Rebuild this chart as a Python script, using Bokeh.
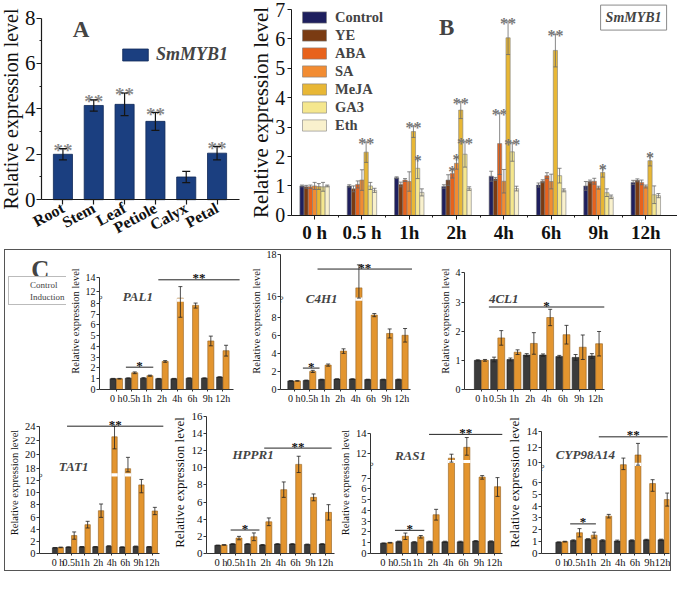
import numpy as np
from bokeh.plotting import figure
from bokeh.models import (Range1d, FixedTicker, Whisker, TeeHead, ColumnDataSource,
                          Label, Legend, LegendItem, LinearAxis)
from bokeh.layouts import row, column
from bokeh.embed import file_html
from bokeh.resources import INLINE
from bokeh.core.properties import value

# ====================== DATA ======================
# Panel A
tissues = ["Root", "Stem", "Leaf", "Petiole", "Calyx", "Petal"]
tissue_level = [2.0, 4.15, 4.2, 3.45, 1.0, 2.05]
tissue_err = [0.25, 0.25, 0.5, 0.4, 0.25, 0.3]
tissue_sig = ["**", "**", "**", "**", "", "**"]

# Panel B
b_times = ["0 h", "0.5 h", "1h", "2h", "4h", "6h", "9h", "12h"]
treatments = ["Control", "YE", "ABA", "SA", "MeJA", "GA3", "Eth"]
b_control = [1.0, 1.0, 1.28, 0.98, 1.33, 1.03, 1.0, 1.12]
b_control_err = [0.03, 0.04, 0.03, 0.06, 0.17, 0.07, 0.15, 0.07]
b_ye = [0.97, 0.9, 1.05, 1.2, 1.24, 1.16, 1.15, 1.19]
b_ye_err = [0.05, 0.1, 0.08, 0.18, 0.05, 0.05, 0.05, 0.05]
b_aba = [0.97, 1.05, 1.2, 1.42, 2.44, 1.35, 1.16, 1.12]
b_aba_err = [0.06, 0.12, 0.05, 0.15, 1.05, 0.1, 0.1, 0.08]
b_sa = [1.0, 1.2, 1.15, 1.77, 1.16, 1.15, 0.94, 0.98]
b_sa_err = [0.12, 0.35, 0.33, 0.2, 0.4, 0.25, 0.05, 0.05]
b_meja = [0.98, 2.15, 2.85, 3.58, 6.04, 5.61, 1.46, 1.86]
b_meja_err = [0.1, 0.35, 0.2, 0.29, 0.57, 0.56, 0.16, 0.18]
b_ga3 = [0.97, 1.0, 1.6, 2.08, 2.16, 1.35, 0.77, 0.7]
b_ga3_err = [0.15, 0.12, 0.35, 0.44, 0.32, 0.25, 0.13, 0.3]
b_eth = [1.0, 0.85, 0.78, 0.91, 0.91, 0.85, 0.63, 0.67]
b_eth_err = [0.03, 0.07, 0.12, 0.06, 0.08, 0.05, 0.06, 0.07]
b_sig_control = [""] * 8
b_sig_ye = [""] * 8
b_sig_aba = ["", "", "", "*", "**", "", "", ""]
b_sig_sa = ["", "", "", "*", "", "", "", ""]
b_sig_meja = ["", "**", "**", "**", "**", "**", "*", "*"]
b_sig_ga3 = ["", "", "*", "**", "**", "", "", ""]
b_sig_eth = [""] * 8

# Panel C
c_times = ["0 h", "0.5h", "1h", "2h", "4h", "6h", "9h", "12h"]
c_groups = ["Control", "Induction"]

pal1_ticks = [0, 1, 2, 3, 4, 5, 6, 7, 8, 12, 14]
pal1_ctrl = [1.0, 1.05, 1.05, 1.0, 1.0, 1.05, 1.05, 1.15]
pal1_ctrl_err = [0.03, 0.03, 0.05, 0.03, 0.03, 0.03, 0.03, 0.03]
pal1_ind = [1.0, 1.55, 1.28, 2.6, 9.7, 7.8, 4.5, 3.6]
pal1_ind_err = [0.03, 0.08, 0.05, 0.08, 3.0, 0.25, 0.45, 0.5]
pal1_sig = [(0.63, 2.43, 2.07, "*"), (2.76, 8.1, 13.7, "**")]

c4h1_ticks = [0, 2, 4, 6, 8, 16, 18]
c4h1_ctrl = [0.95, 1.0, 1.1, 1.15, 1.15, 1.1, 1.1, 1.1]
c4h1_ctrl_err = [0.03, 0.04, 0.04, 0.04, 0.04, 0.04, 0.04, 0.05]
c4h1_ind = [0.95, 2.0, 2.7, 4.25, 16.4, 8.8, 6.2, 6.0]
c4h1_ind_err = [0.03, 0.12, 0.12, 0.25, 1.1, 0.6, 0.5, 0.75]
c4h1_sig = [(0.57, 1.65, 2.37, "*"), (1.52, 7.66, 17.3, "**")]

cl41_ticks = [0, 1, 2, 3, 4]
cl41_ctrl = [1.0, 1.03, 1.03, 1.18, 1.18, 1.13, 1.1, 1.15]
cl41_ctrl_err = [0.02, 0.08, 0.05, 0.05, 0.04, 0.04, 0.1, 0.08]
cl41_ind = [1.0, 1.77, 1.28, 1.58, 2.47, 1.88, 1.45, 1.57]
cl41_ind_err = [0.03, 0.25, 0.08, 0.37, 0.28, 0.32, 0.42, 0.42]
cl41_sig = [(0.46, 7.54, 2.83, "*")]

tat1_ticks = [0, 2, 4, 6, 8, 10, 12, 18, 20, 22, 24]
tat1_ctrl = [0.95, 1.05, 1.1, 1.1, 1.2, 1.05, 1.15, 1.1]
tat1_ctrl_err = [0.03, 0.05, 0.05, 0.05, 0.08, 0.05, 0.08, 0.05]
tat1_ind = [1.0, 2.95, 4.75, 7.05, 22.5, 18.0, 11.3, 7.0]
tat1_ind_err = [0.05, 0.6, 0.55, 1.1, 1.7, 1.6, 1.3, 0.6]
tat1_sig = [(0.68, 7.84, 24.45, "**")]

hppr1_ticks = [0, 2, 4, 6, 8, 10, 12, 14, 16]
hppr1_ctrl = [0.95, 1.1, 1.1, 1.0, 1.1, 1.1, 1.05, 1.1]
hppr1_ctrl_err = [0.03, 0.05, 0.05, 0.05, 0.05, 0.05, 0.05, 0.05]
hppr1_ind = [1.0, 1.8, 1.95, 3.7, 7.45, 10.4, 6.55, 4.8]
hppr1_ind_err = [0.03, 0.2, 0.45, 0.45, 0.9, 0.95, 0.4, 0.9]
hppr1_sig = [(0.65, 2.58, 2.74, "*"), (2.9, 7.42, 12.3, "**")]

ras1_ticks = [0, 1, 2, 3, 4, 5, 6, 7, 12, 14]
ras1_ctrl = [0.95, 1.1, 1.05, 1.1, 1.08, 1.08, 1.15, 1.12]
ras1_ctrl_err = [0.03, 0.05, 0.05, 0.05, 0.06, 0.06, 0.05, 0.05]
ras1_ind = [1.0, 1.6, 1.55, 3.6, 11.0, 12.6, 7.2, 6.2]
ras1_ind_err = [0.03, 0.3, 0.12, 0.5, 0.8, 1.0, 0.3, 0.9]
ras1_sig = [(0.53, 2.44, 2.15, "*"), (2.75, 7.54, 13.92, "**")]

cyp_ticks = [0, 1, 2, 3, 4, 5, 6, 10, 12, 14]
cyp_ctrl = [0.95, 1.1, 1.2, 1.1, 1.05, 1.1, 1.15, 1.15]
cyp_ctrl_err = [0.03, 0.05, 0.05, 0.06, 0.08, 0.05, 0.05, 0.06]
cyp_ind = [1.0, 1.75, 1.55, 3.15, 9.6, 11.0, 5.9, 4.55]
cyp_ind_err = [0.03, 0.35, 0.25, 0.15, 1.0, 1.5, 0.65, 0.55]
cyp_sig = [(0.57, 2.33, 2.5, "*"), (2.53, 7.24, 13.35, "**")]

# ====================== LAYOUT / STYLE ======================
K = 0.975
SERIF = "Liberation Serif"
B_COLORS = ["#1e1f5e", "#7a3b12", "#e8621c", "#f28c32", "#e8b735", "#f5e78e", "#f9f1cd"]
C_COLORS = ["#3b3b3b", "#e3952f"]
C_LINES = ["#1e1e1e", "#94601f"]


def sc(v):
    return int(round(v * K))


def base_fig(box, frame, xr, yr, **kw):
    L, T, R, B = box
    fl, ft, fr, fb = frame
    p = figure(width=sc(R) - sc(L), height=sc(B) - sc(T), output_backend="svg",
               toolbar_location=None, x_range=Range1d(*xr), y_range=Range1d(*yr),
               min_border_left=sc(fl) - sc(L), min_border_right=sc(R) - sc(fr),
               min_border_top=sc(ft) - sc(T), min_border_bottom=sc(B) - sc(fb), **kw)
    p.grid.visible = False
    p.outline_line_color = None
    return p


def style_axis(ax, size, tick_out, standoff, color="#1a1a1a", width=1):
    ax.axis_line_color = color
    ax.axis_line_width = width
    ax.major_tick_line_color = color
    ax.minor_tick_line_color = color
    ax.major_tick_line_width = width
    ax.major_tick_in = 0
    ax.major_tick_out = tick_out
    ax.minor_tick_in = 0
    ax.minor_tick_out = max(1, tick_out // 2)
    ax.major_label_text_font = SERIF
    ax.major_label_text_font_size = size
    ax.major_label_standoff = standoff
    ax.major_label_text_color = "#111111"
    ax.axis_label_text_font = SERIF
    ax.axis_label_text_font_style = "normal"
    ax.axis_label_text_color = "#111111"


def sig_text(p, xs, ys, texts, size, color, yoff=2, **rn):
    keep = [i for i, t in enumerate(texts) if t]
    if not keep:
        return
    src = ColumnDataSource(dict(x=[xs[i] for i in keep], y=[ys[i] for i in keep],
                                t=[texts[i] for i in keep]))
    p.text(x="x", y="y", text="t", source=src, text_align="center",
           text_baseline="alphabetic", text_font=value(SERIF), text_font_size=size,
           text_color=color, text_font_style="bold", y_offset=yoff, **rn)


# ---------------- Top row: panels A and B share one canvas ----------------
# the frame covers the whole canvas; all four axes are pinned with fixed_location
top_box, top_frame = (0, 0, 694, 255), (0, 0, 694, 255)
a_c0, a_sp, a_y0, a_ppt = 64, 31.6, 204, 23.25      # panel A geometry (ref px)
a_left, a_right = 42, 245
b_c0, b_sp, b_y0, b_ppt = 322, 48.5, 220, 30.1      # panel B geometry (ref px)
b_left = 298
fl, ft, fr, fb = top_frame

pT = base_fig(top_box, top_frame, ((fl - b_c0) / b_sp, (fr - b_c0) / b_sp),
              ((b_y0 - fb) / b_ppt, (b_y0 - ft) / b_ppt),
              x_axis_location=None, y_axis_location=None)
pT.extra_x_ranges = {"ax": Range1d((fl - a_c0) / a_sp, (fr - a_c0) / a_sp)}
pT.extra_y_ranges = {"ay": Range1d((a_y0 - fb) / a_ppt, (a_y0 - ft) / a_ppt)}
RA = dict(x_range_name="ax", y_range_name="ay")

# --- panel A
xa = list(range(len(tissues)))
a_src = ColumnDataSource(dict(x=xa, top=tissue_level,
                              lo=[v - e for v, e in zip(tissue_level, tissue_err)],
                              hi=[v + e for v, e in zip(tissue_level, tissue_err)]))
rA = pT.vbar(x="x", top="top", width=0.62, source=a_src, fill_color="#1b3f80",
             line_color="#0f2858", line_width=0.8, **RA)
pT.add_layout(Whisker(base="x", lower="lo", upper="hi", source=a_src, line_color="#151515",
                      line_width=1.2, level="overlay",
                      upper_head=TeeHead(size=8, line_color="#151515", line_width=1.2),
                      lower_head=TeeHead(size=8, line_color="#151515", line_width=1.2), **RA))
sig_text(pT, xa, a_src.data["hi"], tissue_sig, "19px", "#8a8a8a", yoff=2, **RA)

ayA = LinearAxis(x_range_name="ax", y_range_name="ay",
                 fixed_location=(a_left - a_c0) / a_sp, bounds=(0, 8),
                 ticker=FixedTicker(ticks=[0, 2, 4, 6, 8], minor_ticks=[1, 3, 5, 7]))
style_axis(ayA, "21px", 5, 1, width=1.2)
ayA.axis_label = "Relative expression level"
ayA.axis_label_text_font_size = "20px"
ayA.axis_label_standoff = 0
pT.add_layout(ayA, "left")

axA = LinearAxis(x_range_name="ax", y_range_name="ay", fixed_location=0,
                 bounds=((a_left - a_c0) / a_sp, (a_right - a_c0) / a_sp),
                 ticker=FixedTicker(ticks=xa))
style_axis(axA, "16px", 5, 2, width=1.2)
axA.major_label_overrides = {i: t for i, t in enumerate(tissues)}
axA.major_label_text_font_style = "bold"
axA.major_label_orientation = 0.5
pT.add_layout(axA, "below")

pT.add_layout(Legend(items=[LegendItem(label="SmMYB1", renderers=[rA])],
                     location=(sc(122) - sc(fl), sc(fb) - sc(48) - 18),
                     glyph_width=sc(33), glyph_height=15, label_height=18,
                     label_standoff=5, padding=0, margin=0, spacing=0,
                     border_line_color=None, background_fill_alpha=0,
                     label_text_font=SERIF, label_text_font_size="18px",
                     label_text_font_style="bold italic"))
pT.add_layout(Label(x=(82.5 - a_c0) / a_sp, y=(a_y0 - 29.5) / a_ppt, text="A",
                    text_font=SERIF, text_font_size="23px", text_font_style="bold",
                    text_align="center", text_baseline="middle", **RA))

# --- panel B
b_vals = [b_control, b_ye, b_aba, b_sa, b_meja, b_ga3, b_eth]
b_errs = [b_control_err, b_ye_err, b_aba_err, b_sa_err, b_meja_err, b_ga3_err, b_eth_err]
b_sigs = [b_sig_control, b_sig_ye, b_sig_aba, b_sig_sa, b_sig_meja, b_sig_ga3, b_sig_eth]
bw = 0.089
b_items = []
for k, name in enumerate(treatments):
    xs = [i + (k - 3) * bw for i in range(len(b_times))]
    src = ColumnDataSource(dict(x=xs, top=b_vals[k],
                                lo=[v - e for v, e in zip(b_vals[k], b_errs[k])],
                                hi=[v + e for v, e in zip(b_vals[k], b_errs[k])]))
    r = pT.vbar(x="x", top="top", width=bw, source=src, fill_color=B_COLORS[k],
                line_color="#7d7d7d", line_width=0.6)
    b_items.append(LegendItem(label=name, renderers=[r]))
    pT.add_layout(Whisker(base="x", lower="lo", upper="hi", source=src,
                          line_color="#6a6a6a", line_width=0.8, level="overlay",
                          upper_head=TeeHead(size=4, line_color="#6a6a6a", line_width=0.8),
                          lower_head=TeeHead(size=4, line_color="#6a6a6a", line_width=0.8)))
    sig_text(pT, xs, src.data["hi"], b_sigs[k], "16px", "#777777", yoff=2)

ayB = LinearAxis(fixed_location=(b_left - b_c0) / b_sp, bounds=(0, 7),
                 ticker=FixedTicker(ticks=list(range(0, 8))))
style_axis(ayB, "20px", 4, 2)
ayB.axis_label = "Relative expression level"
ayB.axis_label_text_font_size = "21px"
ayB.axis_label_standoff = 0
pT.add_layout(ayB, "left")

axB = LinearAxis(fixed_location=0, bounds=((b_left - b_c0) / b_sp, (fr - b_c0) / b_sp),
                 ticker=FixedTicker(ticks=list(range(len(b_times))),
                                    minor_ticks=[i + 0.5 for i in range(len(b_times) - 1)]))
style_axis(axB, "19px", 4, 3)
axB.major_label_overrides = {i: t for i, t in enumerate(b_times)}
axB.major_label_text_font_style = "bold"
pT.add_layout(axB, "below")

b_row_h = 18
pT.add_layout(Legend(items=b_items,
                     location=(sc(307) - sc(fl),
                               sc(fb) - sc(8) - b_row_h * len(treatments)),
                     glyph_width=30, glyph_height=14, label_height=b_row_h, spacing=0,
                     label_standoff=6, padding=0, margin=0,
                     border_line_color=None, background_fill_alpha=0,
                     label_text_font=SERIF, label_text_font_size="14.5px",
                     label_text_font_style="bold"))
pT.add_layout(Label(x=(457.5 - b_c0) / b_sp, y=(b_y0 - 27.5) / b_ppt, text="B",
                    text_font=SERIF, text_font_size="23px", text_font_style="bold",
                    text_align="center", text_baseline="middle"))
pT.add_layout(Label(x=(649 - b_c0) / b_sp, y=(b_y0 - 17.5) / b_ppt, text="SmMYB1",
                    text_font=SERIF, text_font_size="14px", text_font_style="bold italic",
                    text_align="center", text_baseline="middle",
                    border_line_color="#8a8a8a", border_line_width=1,
                    background_fill_color="white", padding=5))


# ---------------- Panel C ----------------
def gene_panel(name, spec, ticks_v, ctrl, ctrl_e, ind, ind_e, sig):
    box, frame = spec["box"], spec["frame"]
    fl, ft, fr, fb = frame
    c0, sp, ppt = spec["c0"], spec["sp"], spec["ppt"]
    map_v, map_t = spec["map_v"], spec["map_t"]

    def tf(v):
        return float(np.interp(v, map_v, map_t))

    p = base_fig(box, frame, ((fl - c0) / sp, (fr - c0) / sp), (0, (fb - ft) / ppt))
    n = len(c_times)
    w, off = spec.get("w", 0.4), spec.get("off", 0.21)
    rs = []
    for j, (vals, errs) in enumerate([(ctrl, ctrl_e), (ind, ind_e)]):
        xs = [i + (2 * j - 1) * off for i in range(n)]
        src = ColumnDataSource(dict(x=xs, top=[tf(v) for v in vals],
                                    lo=[tf(v - e) for v, e in zip(vals, errs)],
                                    hi=[tf(v + e) for v, e in zip(vals, errs)]))
        rs.append(p.vbar(x="x", top="top", width=w, source=src, fill_color=C_COLORS[j],
                         line_color=C_LINES[j], line_width=0.6))
        if spec.get("gap_px") is not None and j == 1:
            tg = (fb - spec["gap_px"]) / ppt
            hh = 1.6 / ppt
            gx = [x for x, v in zip(xs, vals) if tf(v) > tg + hh]
            if gx:
                p.vbar(x=gx, bottom=tg - hh, top=tg + hh, width=w + 0.08,
                       fill_color="white", line_color=None)
        p.add_layout(Whisker(base="x", lower="lo", upper="hi", source=src,
                             line_color="#222222", line_width=0.8, level="overlay",
                             upper_head=TeeHead(size=4, line_color="#222222", line_width=0.8),
                             lower_head=TeeHead(size=4, line_color="#222222", line_width=0.8)))
    for (x0, x1, lev, txt) in sig:
        p.segment(x0=[x0], y0=[tf(lev)], x1=[x1], y1=[tf(lev)], line_color="#222222",
                  line_width=1)
    sig_text(p, [(s[0] + s[1]) / 2 for s in sig], [tf(s[2]) for s in sig],
             [s[3] for s in sig], "13px", "#111111", yoff=-2)
    ya = p.yaxis[0]
    style_axis(ya, spec["tick"], 3, 1, color="#333333")
    tv = [tf(v) for v in ticks_v]
    ya.ticker = FixedTicker(ticks=tv)
    ya.major_label_overrides = {t: str(v) for t, v in zip(tv, ticks_v)}
    ya.bounds = (0, tv[-1])
    ya.axis_label = "Relative expression level"
    ya.axis_label_text_font_size = spec["title"]
    ya.axis_label_standoff = 2
    xa_ = p.xaxis[0]
    style_axis(xa_, spec["xtick"], 2, 1, color="#333333")
    xa_.ticker = FixedTicker(ticks=list(range(n)))
    xa_.major_label_overrides = {i: t for i, t in enumerate(c_times)}
    xa_.bounds = ((fl - c0) / sp, (spec["xend"] - c0) / sp)
    if spec.get("break_px") is not None:
        p.add_layout(Label(x=(fl - c0) / sp, y=(fb - spec["break_px"]) / ppt, text="≈",
                           angle=1.1, text_align="center", text_baseline="middle",
                           text_font=SERIF, text_font_size="12px", text_color="#333333"))
    nx, ny = spec["name_px"]
    p.add_layout(Label(x=(nx - c0) / sp, y=(fb - ny) / ppt, text=name, text_font=SERIF,
                       text_font_size="13px", text_font_style="bold italic",
                       text_align="left", text_baseline="middle"))
    return p, rs


specs = {
    "PAL1": dict(box=(68, 256, 250, 420), frame=(95, 258, 246, 399), c0=113, sp=16.3,
                 ppt=11.1, xend=238, map_v=[0, 8, 12, 14], map_t=[0, 8, 9.1, 10.36],
                 name_px=(120, 303), gap_px=307, break_px=305, title="10.5px",
                 tick="10px", xtick="10px"),
    "C4H1": dict(box=(250, 256, 442, 420), frame=(287, 258, 440, 399), c0=301, sp=15.8,
                 ppt=9.3, xend=420, map_v=[0, 8, 16, 18], map_t=[0, 8, 10.32, 14.95],
                 name_px=(313, 305), gap_px=306, break_px=305.5, title="10.5px",
                 tick="10px", xtick="10px"),
    "4CL1": dict(box=(442, 256, 687, 420), frame=(476, 258, 685, 399), c0=493.3, sp=16.7,
                 ppt=30, xend=619, map_v=[0, 4], map_t=[0, 4], name_px=(501, 305),
                 title="10.5px", tick="10px", xtick="10px", w=0.42, off=0.22),
    "TAT1": dict(box=(5, 420, 172, 585), frame=(32, 422, 171, 567), c0=52, sp=14.6,
                 ppt=6.2, xend=162, map_v=[0, 12, 18, 24], map_t=[0, 12, 13.97, 20.97],
                 name_px=(53, 478), gap_px=486.7, break_px=488, title="10.5px",
                 tick="10.5px", xtick="10px"),
    "HPPR1": dict(box=(172, 420, 345, 585), frame=(210, 422, 344, 567), c0=225, sp=15.5,
                  ppt=8.75, xend=343, map_v=[0, 16], map_t=[0, 16], name_px=(237, 466),
                  title="13px", tick="11px", xtick="10.5px"),
    "RAS1": dict(box=(345, 420, 516, 585), frame=(380, 422, 515, 567), c0=396.7, sp=15.7,
                 ppt=11, xend=515, map_v=[0, 7, 12, 14], map_t=[0, 7, 9.31, 11.13],
                 name_px=(405, 467), gap_px=473, break_px=476.7, title="10.5px",
                 tick="10.5px", xtick="10.5px"),
    "CYP98A14": dict(box=(516, 420, 687, 585), frame=(552, 422, 686, 567), c0=573.3, sp=15.3,
                     ppt=12.1, xend=686, map_v=[0, 6, 10, 14], map_t=[0, 6, 7.66, 10.27],
                     name_px=(567, 466), gap_px=476, break_px=479, title="13px",
                     tick="11px", xtick="10.5px"),
}

pPAL, pal_rs = gene_panel("PAL1", specs["PAL1"], pal1_ticks, pal1_ctrl, pal1_ctrl_err,
                          pal1_ind, pal1_ind_err, pal1_sig)
pC4H, _ = gene_panel("C4H1", specs["C4H1"], c4h1_ticks, c4h1_ctrl, c4h1_ctrl_err,
                     c4h1_ind, c4h1_ind_err, c4h1_sig)
p4CL, _ = gene_panel("4CL1", specs["4CL1"], cl41_ticks, cl41_ctrl, cl41_ctrl_err,
                     cl41_ind, cl41_ind_err, cl41_sig)
pTAT, _ = gene_panel("TAT1", specs["TAT1"], tat1_ticks, tat1_ctrl, tat1_ctrl_err,
                     tat1_ind, tat1_ind_err, tat1_sig)
pHPP, _ = gene_panel("HPPR1", specs["HPPR1"], hppr1_ticks, hppr1_ctrl, hppr1_ctrl_err,
                     hppr1_ind, hppr1_ind_err, hppr1_sig)
pRAS, _ = gene_panel("RAS1", specs["RAS1"], ras1_ticks, ras1_ctrl, ras1_ctrl_err,
                     ras1_ind, ras1_ind_err, ras1_sig)
pCYP, _ = gene_panel("CYP98A14", specs["CYP98A14"], cyp_ticks, cyp_ctrl, cyp_ctrl_err,
                     cyp_ind, cyp_ind_err, cyp_sig)

# legend + panel letter for C (own small figure, pixel-like ranges)
lg_box, lg_frame = (5, 256, 68, 420), (5, 258, 68, 399)
pLG = base_fig(lg_box, lg_frame, (5, 68), (399, 258))
pLG.xaxis.visible = False
pLG.yaxis.visible = False
dummy = []
for j in range(2):
    dummy.append(pLG.vbar(x=[], top=[], width=1, fill_color=C_COLORS[j],
                          line_color=C_LINES[j], line_width=0.6))
pLG.add_layout(Legend(items=[LegendItem(label=c_groups[0], renderers=[dummy[0]]),
                             LegendItem(label=c_groups[1], renderers=[dummy[1]])],
                      location=(sc(8) - sc(5), sc(399) - sc(313)), glyph_width=16,
                      glyph_height=10, label_height=11, spacing=1, label_standoff=3,
                      padding=2, margin=0, border_line_color="#777777",
                      border_line_width=1, background_fill_color="white",
                      label_text_font=SERIF, label_text_font_size="9px"))
pLG.add_layout(Label(x=41, y=276, text="C", text_font=SERIF, text_font_size="25px",
                     text_font_style="bold", text_align="center", text_baseline="middle"))

boxC = column(row(column(pLG), column(pPAL), column(pC4H), column(p4CL)),
              row(column(pTAT), column(pHPP), column(pRAS), column(pCYP)),
              styles={"border": "1px solid #555555"}, margin=(0, 0, 0, 4))
layout = column(pT, boxC)

open("out.html", "w").write(file_html(layout, INLINE))
